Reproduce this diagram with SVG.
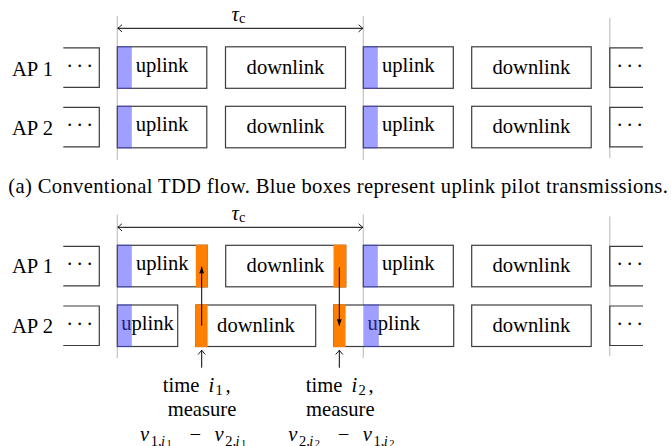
<svg xmlns="http://www.w3.org/2000/svg" width="671" height="446" viewBox="0 0 671 446">
<style>
.it{font-style:italic}
.box{fill:#fff;stroke:#3c3c3c;stroke-width:1.2}
.open{fill:none;stroke:#3c3c3c;stroke-width:1.2}
.blue{fill:#4040ff;fill-opacity:0.5}
.orange{fill:#ff8000}
.guide{stroke:#bdbdbd;stroke-width:1.1}
.arr{stroke:#000;stroke-width:1;fill:none}
.mid{text-anchor:middle}
</style>
<defs>
<marker id="to" markerUnits="userSpaceOnUse" markerWidth="12" markerHeight="12" viewBox="-6 -6 12 12" refX="0" refY="0" orient="auto-start-reverse" overflow="visible">
<path d="M -4.2 -3.6 Q -1.2 -0.9 0 0 Q -1.2 0.9 -4.2 3.6" fill="none" stroke="#000" stroke-width="0.9"/>
</marker>
<marker id="latex" markerUnits="userSpaceOnUse" markerWidth="12" markerHeight="12" viewBox="-8 -6 12 12" refX="0" refY="0" orient="auto" overflow="visible">
<path d="M -6.5 -2.4 L 0 0 L -6.5 2.4 z" fill="#000"/>
</marker>
</defs>

<g id="guides">
<line class="guide" x1="117.3" y1="16" x2="117.3" y2="160"/>
<line class="guide" x1="363.3" y1="16" x2="363.3" y2="160"/>
<line class="guide" x1="609.8" y1="18" x2="609.8" y2="158"/>
<line class="guide" x1="117.3" y1="214.5" x2="117.3" y2="358"/>
<line class="guide" x1="363.3" y1="214.5" x2="363.3" y2="358"/>
<line class="guide" x1="609.8" y1="216.5" x2="609.8" y2="356"/>
</g>

<g font-family="Liberation Serif, serif" font-size="20.6" fill="#000">
<!-- Panel (a) -->
<g id="a-labels">
<text x="12" y="76">AP 1</text>
<text x="12" y="135.3">AP 2</text>
<text x="231.5" y="20.7"><tspan class="it">τ</tspan><tspan font-size="14.5" dy="1.8">c</tspan></text>
</g>
<g id="a-ap1-dots"><path class="open" d="M63.3 47.8H99.3V87.3H63.3"/><text x="66.2 76.2 86.2" y="72.8">···</text></g>
<g id="a-ap1-up1"><rect class="box" x="117.3" y="46.8" width="89.5" height="41.5"/><rect class="blue" x="117.3" y="46.2" width="14.5" height="42.7"/><text class="mid" x="162" y="71.6">uplink</text></g>
<g id="a-ap1-dl1"><rect class="box" x="225.5" y="46.8" width="120" height="41.5"/><text class="mid" x="285.5" y="73.9">downlink</text></g>
<g id="a-ap1-up2"><rect class="box" x="363.3" y="46.8" width="90" height="41.5"/><rect class="blue" x="363.3" y="46.2" width="14.5" height="42.7"/><text class="mid" x="408.3" y="71.6">uplink</text></g>
<g id="a-ap1-dl2"><rect class="box" x="471.7" y="46.8" width="119.5" height="41.5"/><text class="mid" x="531.4" y="73.9">downlink</text></g>
<g id="a-ap1-dotsR"><path class="open" d="M643 47.8H609.8V87.3H643"/><text x="616.2 626.2 636.2" y="72.8">···</text></g>

<g id="a-ap2-dots"><path class="open" d="M63.3 107.3H99.3V146.8H63.3"/><text x="66.2 76.2 86.2" y="132.3">···</text></g>
<g id="a-ap2-up1"><rect class="box" x="117.3" y="106.3" width="89.5" height="41.5"/><rect class="blue" x="117.3" y="105.7" width="14.5" height="42.7"/><text class="mid" x="162" y="131.1">uplink</text></g>
<g id="a-ap2-dl1"><rect class="box" x="225.5" y="106.3" width="120" height="41.5"/><text class="mid" x="285.5" y="133.4">downlink</text></g>
<g id="a-ap2-up2"><rect class="box" x="363.3" y="106.3" width="90" height="41.5"/><rect class="blue" x="363.3" y="105.7" width="14.5" height="42.7"/><text class="mid" x="408.3" y="131.1">uplink</text></g>
<g id="a-ap2-dl2"><rect class="box" x="471.7" y="106.3" width="119.5" height="41.5"/><text class="mid" x="531.4" y="133.4">downlink</text></g>
<g id="a-ap2-dotsR"><path class="open" d="M643 107.3H609.8V146.8H643"/><text x="616.2 626.2 636.2" y="132.3">···</text></g>

<g id="caption-a"><text x="8.3" y="192.5" textLength="659.5" lengthAdjust="spacing">(a) Conventional TDD flow. Blue boxes represent uplink pilot transmissions.</text></g>

<!-- Panel (b) -->
<g id="b-labels">
<text x="12" y="273.4">AP 1</text>
<text x="12" y="333.4">AP 2</text>
<text x="231.5" y="219.9"><tspan class="it">τ</tspan><tspan font-size="14.5" dy="1.8">c</tspan></text>
</g>
<g id="b-ap1-dots"><path class="open" d="M63.3 246.3H99.3V285.8H63.3"/><text x="66.2 76.2 86.2" y="271.3">···</text></g>
<g id="b-ap1-up1"><rect class="box" x="117.3" y="245.3" width="89.9" height="41.5"/><rect class="blue" x="117.3" y="244.7" width="14.5" height="42.7"/><rect class="orange" x="195.8" y="244.7" width="12" height="42.7"/><text class="mid" x="162.3" y="270.1">uplink</text></g>
<g id="b-ap1-dl1"><rect class="box" x="225.7" y="245.3" width="120" height="41.5"/><rect class="orange" x="333.5" y="244.7" width="12.8" height="42.7"/><text class="mid" x="285.5" y="272.4">downlink</text></g>
<g id="b-ap1-up2"><rect class="box" x="363.3" y="245.3" width="90" height="41.5"/><rect class="blue" x="363.3" y="244.7" width="14.5" height="42.7"/><text class="mid" x="408.3" y="270.1">uplink</text></g>
<g id="b-ap1-dl2"><rect class="box" x="471.7" y="245.3" width="119.5" height="41.5"/><text class="mid" x="531.4" y="272.4">downlink</text></g>
<g id="b-ap1-dotsR"><path class="open" d="M643 246.3H609.8V285.8H643"/><text x="616.2 626.2 636.2" y="271.3">···</text></g>

<g id="b-ap2-dots"><path class="open" d="M63.3 306H99.3V345.5H63.3"/><text x="66.2 76.2 86.2" y="331">···</text></g>
<g id="b-ap2-up1"><rect class="box" x="117.3" y="305" width="60.4" height="41.5"/><text class="mid" x="147.5" y="329.8">uplink</text><rect class="blue" x="117.3" y="304.4" width="14.5" height="42.7"/></g>
<g id="b-ap2-dl1"><rect class="box" x="196" y="305" width="119.7" height="41.5"/><rect class="orange" x="195.6" y="304.4" width="12" height="42.7"/><text class="mid" x="256" y="332">downlink</text></g>
<g id="b-ap2-up2"><rect class="box" x="333.7" y="305" width="120" height="41.5"/><text class="mid" x="393.7" y="329.8">uplink</text><rect class="orange" x="333.3" y="304.4" width="12.3" height="42.7"/><rect class="blue" x="363.3" y="304.4" width="15.5" height="42.7"/></g>
<g id="b-ap2-dl2"><rect class="box" x="471.7" y="305" width="119.5" height="41.5"/><text class="mid" x="531.4" y="332">downlink</text></g>
<g id="b-ap2-dotsR"><path class="open" d="M643 306H609.8V345.5H643"/><text x="616.2 626.2 636.2" y="331">···</text></g>

<g id="note-1">
<text y="391.7"><tspan x="162.7">time</tspan><tspan x="208.5" class="it">i</tspan><tspan x="215.5" font-size="14.5" dy="3">1</tspan><tspan x="225.5" dy="-3">,</tspan></text>
<text class="mid" x="202" y="416">measure</text>
<text y="440.5"><tspan x="140" class="it">ν</tspan><tspan x="150.8" font-size="14.5" dy="5">1,</tspan><tspan x="161" font-size="14.5" class="it">i</tspan><tspan x="166.5" font-size="10.5" dy="1.5">1</tspan><tspan x="189.5" dy="-6.5">−</tspan><tspan x="214.5" class="it">ν</tspan><tspan x="225.3" font-size="14.5" dy="5">2,</tspan><tspan x="235.5" font-size="14.5" class="it">i</tspan><tspan x="241" font-size="10.5" dy="1.5">1</tspan></text>
</g>
<g id="note-2">
<text y="391.7"><tspan x="305.7">time</tspan><tspan x="351.5" class="it">i</tspan><tspan x="358.5" font-size="14.5" dy="3">2</tspan><tspan x="368.5" dy="-3">,</tspan></text>
<text class="mid" x="340.3" y="416">measure</text>
<text y="440.5"><tspan x="288.3" class="it">ν</tspan><tspan x="299.1" font-size="14.5" dy="5">2,</tspan><tspan x="309.3" font-size="14.5" class="it">i</tspan><tspan x="314.8" font-size="10.5" dy="1.5">2</tspan><tspan x="337.8" dy="-6.5">−</tspan><tspan x="362.8" class="it">ν</tspan><tspan x="373.6" font-size="14.5" dy="5">1,</tspan><tspan x="383.8" font-size="14.5" class="it">i</tspan><tspan x="389.3" font-size="10.5" dy="1.5">2</tspan></text>
</g>
</g>

<g id="connectors">
<line class="arr" x1="117.8" y1="28.3" x2="362.8" y2="28.3" marker-start="url(#to)" marker-end="url(#to)"/>
<line class="arr" x1="117.8" y1="227.3" x2="362.8" y2="227.3" marker-start="url(#to)" marker-end="url(#to)"/>
<line class="arr" x1="201.7" y1="325.7" x2="201.7" y2="266.7" marker-end="url(#latex)"/>
<line class="arr" x1="339.3" y1="267.3" x2="339.3" y2="325.7" marker-end="url(#latex)"/>
<line class="arr" x1="201.7" y1="367.7" x2="201.7" y2="350.3" marker-end="url(#to)"/>
<line class="arr" x1="339.3" y1="367.7" x2="339.3" y2="350.3" marker-end="url(#to)"/>
</g>
</svg>
